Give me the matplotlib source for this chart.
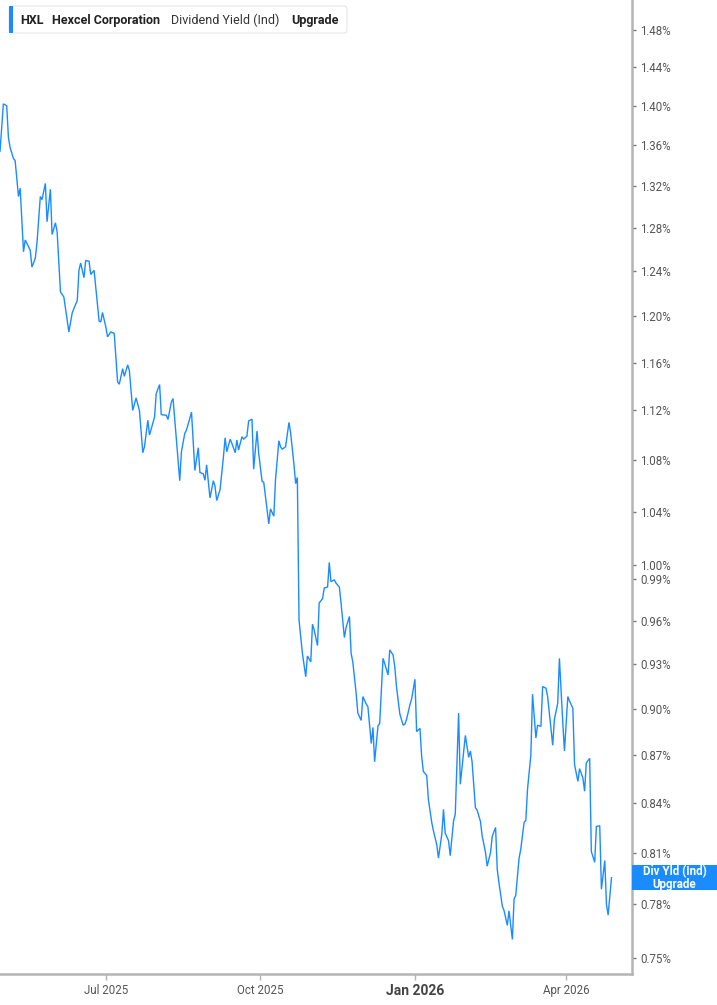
import matplotlib
matplotlib.use("Agg")
import matplotlib.pyplot as plt
import matplotlib.dates as mdates
from matplotlib.ticker import FixedLocator, NullLocator, FixedFormatter
from matplotlib.patches import FancyBboxPatch, Rectangle
import pandas as pd

plt.rcParams['font.family'] = ['Roboto', 'DejaVu Sans']

# ---------------- data ----------------
dates = [
 "2025-04-29","2025-05-01","2025-05-03","2025-05-04","2025-05-05","2025-05-07","2025-05-08","2025-05-10",
 "2025-05-11","2025-05-13","2025-05-14","2025-05-17","2025-05-18","2025-05-20","2025-05-21","2025-05-23",
 "2025-05-24","2025-05-26","2025-05-27","2025-05-29","2025-05-30","2025-06-01","2025-06-02","2025-06-04",
 "2025-06-06","2025-06-09","2025-06-11","2025-06-12","2025-06-14","2025-06-15","2025-06-16","2025-06-18",
 "2025-06-19","2025-06-21","2025-06-22","2025-06-24","2025-06-27","2025-06-28",
 "2025-06-29","2025-07-01","2025-07-02","2025-07-04","2025-07-06","2025-07-08","2025-07-09","2025-07-11",
 "2025-07-12","2025-07-14","2025-07-15","2025-07-17","2025-07-19","2025-07-21","2025-07-23","2025-07-24",
 "2025-07-26","2025-07-27","2025-07-30","2025-07-31","2025-08-02","2025-08-03","2025-08-06","2025-08-07",
 "2025-08-09","2025-08-10","2025-08-14","2025-08-15","2025-08-17","2025-08-18","2025-08-21","2025-08-23",
 "2025-08-25","2025-08-26",
 "2025-08-28","2025-08-29","2025-08-30","2025-09-01","2025-09-03","2025-09-04","2025-09-05","2025-09-07",
 "2025-09-09","2025-09-10","2025-09-11","2025-09-13","2025-09-14","2025-09-16","2025-09-17","2025-09-18",
 "2025-09-20","2025-09-21","2025-09-23","2025-09-24","2025-09-26","2025-09-27","2025-09-29","2025-09-30",
 "2025-10-02","2025-10-03","2025-10-04","2025-10-06","2025-10-07","2025-10-09","2025-10-10","2025-10-12",
 "2025-10-13","2025-10-14","2025-10-16","2025-10-18","2025-10-19","2025-10-21","2025-10-22","2025-10-23",
 "2025-10-24","2025-10-26","2025-10-28","2025-10-29","2025-10-31","2025-11-01","2025-11-02","2025-11-04",
 "2025-11-05","2025-11-07","2025-11-08","2025-11-10","2025-11-11","2025-11-12","2025-11-14","2025-11-15",
 "2025-11-17","2025-11-18","2025-11-20","2025-11-21","2025-11-23","2025-11-24","2025-11-25","2025-11-27",
 "2025-11-28","2025-11-30","2025-12-01","2025-12-03","2025-12-04","2025-12-06","2025-12-07","2025-12-08",
 "2025-12-10","2025-12-11","2025-12-13","2025-12-14","2025-12-16","2025-12-17","2025-12-19","2025-12-20",
 "2025-12-21","2025-12-23","2025-12-25","2025-12-26","2025-12-27","2025-12-29",
 "2025-12-30","2026-01-01","2026-01-02","2026-01-04","2026-01-05","2026-01-06","2026-01-08","2026-01-09",
 "2026-01-11","2026-01-12","2026-01-14","2026-01-15","2026-01-17","2026-01-18","2026-01-19","2026-01-21",
 "2026-01-22","2026-01-24","2026-01-25","2026-01-27","2026-01-28","2026-01-30","2026-01-31","2026-02-02",
 "2026-02-03","2026-02-04","2026-02-06","2026-02-07","2026-02-09","2026-02-10","2026-02-12","2026-02-13",
 "2026-02-15","2026-02-16","2026-02-18","2026-02-19","2026-02-20","2026-02-22","2026-02-23",
 "2026-02-25","2026-02-26","2026-02-28","2026-03-01","2026-03-02","2026-03-04","2026-03-05","2026-03-07",
 "2026-03-08","2026-03-09","2026-03-11","2026-03-12","2026-03-14","2026-03-15","2026-03-17","2026-03-18",
 "2026-03-20","2026-03-21","2026-03-24","2026-03-25","2026-03-27","2026-03-28","2026-03-30","2026-03-31",
 "2026-04-02","2026-04-03","2026-04-05","2026-04-06","2026-04-08","2026-04-09","2026-04-11","2026-04-12",
 "2026-04-13","2026-04-15","2026-04-16","2026-04-18","2026-04-19","2026-04-21","2026-04-22","2026-04-24",
 "2026-04-25","2026-04-26","2026-04-28",
]
div_yield = [
 1.354,1.402,1.400,1.368,1.358,1.347,1.345,1.310,
 1.318,1.258,1.269,1.2595,1.244,1.252,1.266,1.310,
 1.307,1.3226,1.286,1.317,1.274,1.285,1.2766,1.2216,
 1.217,1.1863,1.203,1.2068,1.214,1.241,1.2477,1.2344,
 1.250,1.2494,1.2373,1.241,1.1957,1.195,
 1.2033,1.1907,1.182,1.1863,1.185,1.1436,1.1417,1.1548,
 1.1483,1.158,1.1533,1.120,1.1303,1.120,1.0858,1.0906,
 1.112,1.100,1.1146,1.1339,1.1414,1.1166,1.116,1.1126,
 1.1269,1.1298,1.0638,1.0866,1.1014,1.104,1.1186,1.0718,
 1.0898,1.0702,
 1.0692,1.0641,1.0762,1.0505,1.0638,1.0595,1.0485,1.0569,
 1.0826,1.0978,1.0866,1.0966,1.0934,1.0858,1.096,1.088,
 1.0986,1.0966,1.0992,1.1114,1.1128,1.0728,1.1032,1.0854,
 1.0633,1.0625,1.0518,1.0307,1.0421,1.0365,1.0646,1.0954,
 1.0906,1.0886,1.0906,1.1102,1.1018,1.0762,1.0615,1.0664,
 0.9607,0.9375,0.9215,0.9356,0.9316,0.9577,0.9537,0.9428,
 0.9727,0.9757,0.9834,0.9841,1.002,0.988,0.9893,0.987,
 0.984,0.9727,0.9483,0.9553,0.9631,0.9375,0.9316,0.9105,
 0.8973,0.8925,0.9082,0.9033,0.9015,0.8775,0.8879,0.8659,
 0.8889,0.8904,0.934,0.9305,0.9227,0.9398,0.9363,0.9282,
 0.9149,0.8967,0.8894,0.890,0.8931,0.9027,
 0.9065,0.9198,0.8852,0.8873,0.8692,0.8598,0.8572,0.8424,
 0.8282,0.8232,0.8148,0.8069,0.8212,0.8362,0.8218,0.8172,
 0.8083,0.8292,0.8332,0.8973,0.8517,0.8727,0.8827,0.8687,
 0.8727,0.8659,0.8372,0.8358,0.8288,0.8202,0.8102,0.8021,
 0.8102,0.8198,0.8252,0.8002,0.7925,0.779,0.7766,
 0.7681,0.7763,0.7602,0.7829,0.7852,0.8069,0.8122,0.8284,
 0.8294,0.8485,0.8702,0.9098,0.8811,0.8894,0.8886,0.9149,
 0.9138,0.9082,0.8764,0.8931,0.9038,0.934,0.8911,0.8727,
 0.9082,0.9053,0.9005,0.8641,0.8535,0.8615,0.8555,0.8474,
 0.8652,0.868,0.8108,0.8044,0.8258,0.8262,0.7887,0.8054,
 0.780,0.7739,0.7954,
]
y_ticks = [0.75, 0.78, 0.81, 0.84, 0.87, 0.90, 0.93, 0.96, 0.99, 1.00, 1.04, 1.08,
           1.12, 1.16, 1.20, 1.24, 1.28, 1.32, 1.36, 1.40, 1.44, 1.48]
x_tick_dates = ["2025-07-01", "2025-10-01", "2026-01-01", "2026-04-01"]
x_tick_labels = ["Jul 2025", "Oct 2025", "Jan 2026", "Apr 2026"]
x_range = ["2025-04-29", "2026-05-10 05:00"]
y_range = [0.7412, 1.5128]

ticker_sym = "HXL"
company = "Hexcel Corporation"
metric = "Dividend Yield (Ind)"
upgrade = "Upgrade"
end_label = "Div Yld (Ind)\nUpgrade"

LINE = "#1a8cff"
AXIS = "#b4b4b4"
TXT = "#555555"

# ---------------- figure ----------------
W, H = 717, 1005
fig = plt.figure(figsize=(W / 100, H / 100), dpi=100)
ax = fig.add_axes([0, 31 / H, 632 / W, 1 - 31 / H])

x = pd.to_datetime(dates)
ax.plot(x, div_yield, color=LINE, lw=1.0, solid_joinstyle='miter')

ax.set_yscale('log')
ax.set_xlim(pd.to_datetime(x_range[0]), pd.to_datetime(x_range[1]))
ax.set_ylim(*y_range)

ax.yaxis.tick_right()
ax.yaxis.set_major_locator(FixedLocator(y_ticks))
ax.yaxis.set_minor_locator(NullLocator())
ax.yaxis.set_major_formatter(FixedFormatter([f"{v:.2f}%" for v in y_ticks]))
ax.tick_params(axis='y', which='major', length=3, width=1, color='#777777',
               labelsize=8.3, labelcolor=TXT, pad=3)

ax.xaxis.set_major_locator(FixedLocator(mdates.date2num(pd.to_datetime(x_tick_dates))))
ax.xaxis.set_minor_locator(NullLocator())
ax.set_xticklabels(x_tick_labels)
ax.tick_params(axis='x', which='major', length=4, width=1, color=AXIS,
               labelsize=8.3, labelcolor=TXT, pad=3)
for lab in ax.get_xticklabels():
    if lab.get_text().startswith("Jan"):
        lab.set_fontweight('bold')
        lab.set_fontsize(10)
        lab.set_color('#444444')

for s in ['top', 'left']:
    ax.spines[s].set_visible(False)
for s in ['right', 'bottom']:
    ax.spines[s].set_color(AXIS)
    ax.spines[s].set_linewidth(1.8)

# ---------------- header legend ----------------
def fx(px):
    return px / W

def fy(py):
    return 1 - py / H

box = FancyBboxPatch((fx(9), fy(33)), fx(338), 27 / H,
                     boxstyle="round,pad=0,rounding_size=0.004",
                     transform=fig.transFigure, fc='white', ec='#e6e6e6', lw=0.8)
fig.patches.append(box)
bar = Rectangle((fx(9), fy(33)), fx(4), 27 / H, transform=fig.transFigure,
                fc=LINE, ec='none')
fig.patches.append(bar)
ty = fy(20.5)
fig.text(fx(20), ty, ticker_sym, fontsize=9, fontweight='bold', color='#222222', va='center')
fig.text(fx(52), ty, company, fontsize=9, fontweight='bold', color='#222222', va='center')
fig.text(fx(171), ty, metric, fontsize=9, color='#333333', va='center')
fig.text(fx(291), ty, upgrade, fontsize=9, fontweight='bold', color='#222222', va='center')

# ---------------- end-of-line label ----------------
fig.canvas.draw()
last_disp = ax.transData.transform((mdates.date2num(x[-1]), div_yield[-1]))
cy = last_disp[1]  # display pixels from bottom
ax_right = ax.get_position().x1 * W
lab_box = Rectangle((ax_right, cy - 12.5), W - ax_right, 25, transform=None,
                    fc=LINE, ec='none', zorder=5)
fig.patches.append(lab_box)
fig.text((ax_right + W) / 2 / W, cy / H, end_label, fontsize=8.3, fontweight='bold',
         color='white', ha='center', va='center', linespacing=1.0, zorder=6)

fig.savefig("out.png", dpi=100)
